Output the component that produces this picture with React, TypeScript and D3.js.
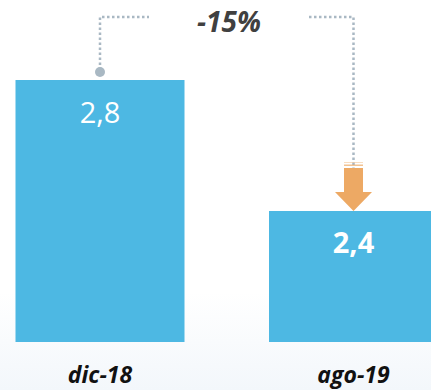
import React from "react";
import * as d3 from "d3";

const categories = ["dic-18", "ago-19"];
const values = [2.8, 2.4];
const valueLabels = ["2,8", "2,4"];
const changeLabel = "-15%";

const W = 431;
const H = 390;

export default function App() {
  const x = d3.scaleBand<string>().domain(categories).range([15.5, 438]).paddingInner(1 / 3).paddingOuter(0);
  const y = d3.scaleLinear().domain([2, 3]).range([342, 14.5]);
  const barColor = "#4db8e3";
  const dotColor = "#a9b8c3";
  const arrowColor = "#eda964";
  const c0 = x(categories[0])! + x.bandwidth() / 2;
  const c1 = x(categories[1])! + x.bandwidth() / 2;
  const topY = 17;
  const tipY = y(values[1]);
  const headH = 19;
  const headW = 37;
  const shaftW = 19;
  const shaftTop = tipY - 49;
  const arrowPath = d3.path();
  arrowPath.moveTo(c1 - shaftW / 2, shaftTop + 6);
  arrowPath.lineTo(c1 + shaftW / 2, shaftTop + 6);
  arrowPath.lineTo(c1 + shaftW / 2, tipY - headH);
  arrowPath.lineTo(c1 + headW / 2, tipY - headH);
  arrowPath.lineTo(c1, tipY);
  arrowPath.lineTo(c1 - headW / 2, tipY - headH);
  arrowPath.lineTo(c1 - shaftW / 2, tipY - headH);
  arrowPath.closePath();

  return (
    <svg
      width={W}
      height={H}
      style={{ position: "absolute", left: 0, top: 0, display: "block" }}
      fontFamily="'Open Sans', sans-serif"
    >
      <defs>
        <linearGradient id="bg" x1="0" y1="0" x2="0" y2="1">
          <stop offset="0" stopColor="#ffffff" />
          <stop offset="0.75" stopColor="#ffffff" />
          <stop offset="1" stopColor="#f3f7fb" />
        </linearGradient>
      </defs>
      <rect width={W} height={H} fill="url(#bg)" />
      {categories.map((c, i) => (
        <rect
          key={c}
          x={x(c)}
          y={y(values[i])}
          width={x.bandwidth()}
          height={y(2) - y(values[i])}
          fill={barColor}
        />
      ))}
      <path
        d={`M${c0},${y(values[0]) - 10} L${c0},${topY} L149,${topY}`}
        fill="none"
        stroke={dotColor}
        strokeWidth={2.5}
        strokeDasharray="2.5 2.5"
      />
      <path
        d={`M309,${topY} L${c1},${topY} L${c1},${shaftTop + 6}`}
        fill="none"
        stroke={dotColor}
        strokeWidth={2.5}
        strokeDasharray="2.5 2.5"
      />
      <circle cx={c0} cy={y(values[0]) - 8} r={5} fill={dotColor} />
      <rect x={c1 - shaftW / 2} y={shaftTop} width={shaftW} height={1} fill={arrowColor} opacity={0.4} />
      <rect x={c1 - shaftW / 2} y={shaftTop + 2.5} width={shaftW} height={1.5} fill={arrowColor} opacity={0.7} />
      <path d={arrowPath.toString()} fill={arrowColor} />
      <text x={229} y={32} textAnchor="middle" fontSize={28} fontWeight="bold" fontStyle="italic" fill="#404040">
        {changeLabel}
      </text>
      {categories.map((c, i) => (
        <text
          key={"v" + c}
          x={x(c)! + x.bandwidth() / 2}
          y={i === 0 ? 123 : 253}
          textAnchor="middle"
          fontSize={29}
          fontWeight={i === 0 ? "normal" : "bold"}
          fill="#ffffff"
        >
          {valueLabels[i]}
        </text>
      ))}
      {categories.map((c) => (
        <text
          key={"c" + c}
          x={x(c)! + x.bandwidth() / 2}
          y={383}
          textAnchor="middle"
          fontSize={23}
          fontWeight="bold"
          fontStyle="italic"
          fill="#111111"
        >
          {c}
        </text>
      ))}
    </svg>
  );
}
